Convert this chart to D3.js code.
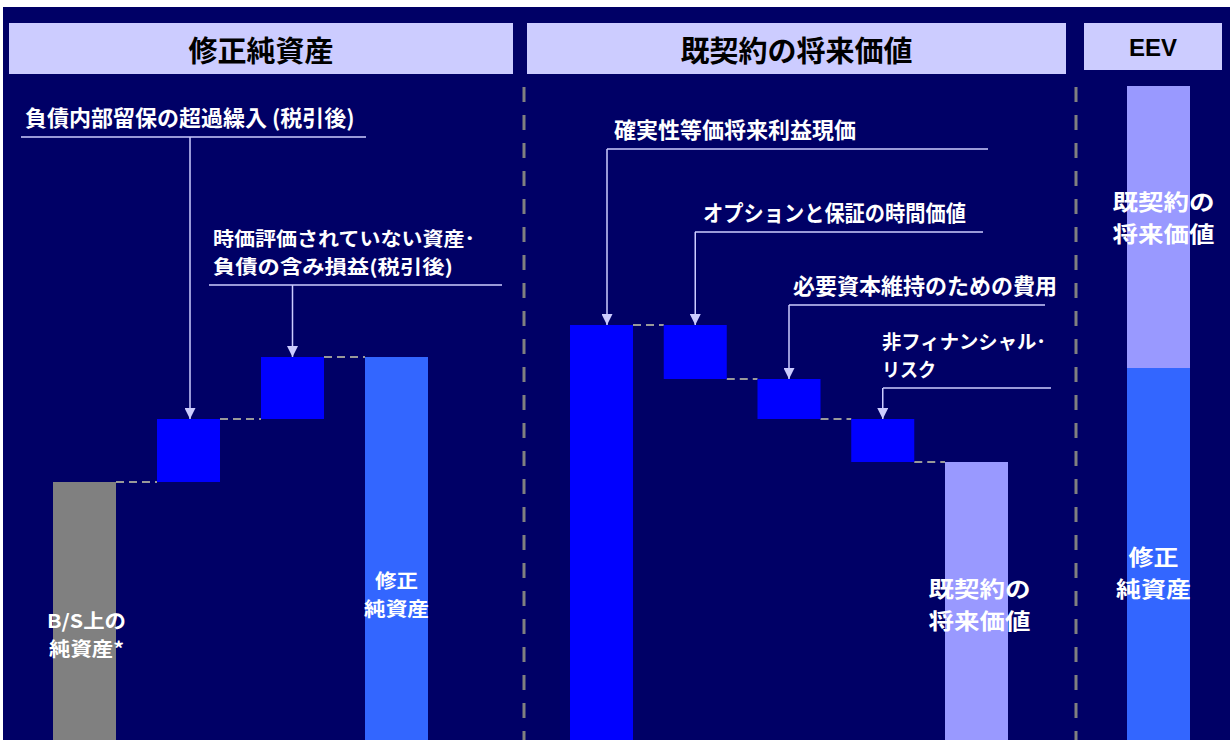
<!DOCTYPE html>
<html lang="ja">
<head>
<meta charset="UTF-8">
<title>EEV</title>
<script src="https://cdnjs.cloudflare.com/ajax/libs/d3/7.8.5/d3.min.js"></script>
<style>
  body { margin: 0; background: #fff; }
  svg { display: block; }
  text { font-family: "Noto Sans CJK JP", "Noto Sans", sans-serif; font-weight: 700; }
  .callout { fill: #fff; }
  .barlabel { fill: #fff; }
  .head { fill: #000; }
</style>
</head>
<body>
<svg width="1230" height="740"></svg>
<script>
// 修正純資産 (waterfall)
const anwCats = ["B/S上の純資産", "負債内部留保の超過繰入", "含み損益", "修正純資産"];
const anwValues = [258, 63, 62, 383];
const anwTypes = ["base", "delta", "delta", "total"];

// 既契約の将来価値 (waterfall)
const vifCats = ["確実性等価将来利益現価", "オプションと保証の時間価値", "必要資本維持のための費用", "非フィナンシャル・リスク", "既契約の将来価値"];
const vifValues = [415, -54, -40, -43, 278];
const vifTypes = ["base", "delta", "delta", "delta", "total"];

// EEV (stacked)
const eevCats = ["修正純資産", "既契約の将来価値"];
const eevValues = [372, 282];

const headers = ["修正純資産", "既契約の将来価値", "EEV"];

const barLabels = {
  "B/S上の純資産": ["B/S上の", "純資産*"],
  "修正純資産": ["修正", "純資産"],
  "既契約の将来価値": ["既契約の", "将来価値"]
};
const calloutLines = {
  "負債内部留保の超過繰入": ["負債内部留保の超過繰入 (税引後)"],
  "含み損益": ["時価評価されていない資産･", "負債の含み損益(税引後)"],
  "確実性等価将来利益現価": ["確実性等価将来利益現価"],
  "オプションと保証の時間価値": ["オプションと保証の時間価値"],
  "必要資本維持のための費用": ["必要資本維持のための費用"],
  "非フィナンシャル・リスク": ["非フィナンシャル･", "リスク"]
};

const colors = {
  bg: "#000066", head: "#ccccff", base: "#808080", delta: "#0000ff",
  anw: "#3366ff", vif: "#9999ff", line: "#ccccff", dash: "#999999"
};

const svg = d3.select("svg");
const barW = 63;
const y = d3.scaleLinear().domain([0, 654]).range([740, 86]);
const xAnw = d3.scalePoint().domain(anwCats).range([84.5, 396.5]);
const xVif = d3.scalePoint().domain(vifCats).range([601.5, 976.5]);
const xEev = d3.scalePoint().domain(["EEV"]).range([1158.5, 1158.5]);

svg.append("defs").append("marker")
  .attr("id", "arrow").attr("viewBox", "0 0 10 10")
  .attr("refX", 10).attr("refY", 5)
  .attr("markerWidth", 11).attr("markerHeight", 11)
  .attr("markerUnits", "userSpaceOnUse")
  .attr("orient", "auto")
  .append("path").attr("d", "M0,0L10,5L0,10Z").attr("fill", colors.line);

svg.append("rect").attr("x", 3).attr("y", 7).attr("width", 1227).attr("height", 733)
  .attr("fill", colors.bg);

// header boxes
const headBoxes = [[9, 513, 74], [527, 1066, 74], [1084, 1222, 70]];
headBoxes.forEach((b, i) => {
  svg.append("rect").attr("x", b[0]).attr("y", 23).attr("width", b[1] - b[0]).attr("height", b[2] - 23)
    .attr("fill", colors.head);
  const t = svg.append("text").attr("class", "head")
    .attr("x", (b[0] + b[1]) / 2).attr("y", i < 2 ? 62 : 56)
    .attr("text-anchor", "middle").text(headers[i]);
  if (i < 2) t.style("font-size", "29px");
  else t.style("font-size", "24px").style("font-family", "'Liberation Sans', Arial, sans-serif");
});

// separators
[524, 1076].forEach(x => {
  svg.append("line").attr("x1", x).attr("x2", x).attr("y1", 87).attr("y2", 740)
    .attr("stroke", "#808080").attr("stroke-width", 3).attr("stroke-dasharray", "15,13");
});

function waterfall(cats, values, types, x, totalColor) {
  let run = 0;
  const bars = cats.map((c, i) => {
    let lo, hi;
    if (types[i] === "delta") {
      const next = run + values[i];
      lo = Math.min(run, next); hi = Math.max(run, next);
      run = next;
    } else {
      lo = 0; hi = values[i]; run = values[i];
    }
    return { cat: c, lo, hi, type: types[i], end: run };
  });

  // connectors
  bars.slice(0, -1).forEach((b, i) => {
    svg.append("line")
      .attr("x1", x(b.cat) + barW / 2).attr("x2", x(bars[i + 1].cat) - barW / 2)
      .attr("y1", y(b.end)).attr("y2", y(b.end))
      .attr("stroke", colors.dash).attr("stroke-width", 2).attr("stroke-dasharray", "8,5");
  });

  svg.selectAll(null).data(bars).enter().append("rect")
    .attr("x", d => x(d.cat) - barW / 2)
    .attr("width", barW)
    .attr("y", d => y(d.hi))
    .attr("height", d => y(d.lo) - y(d.hi))
    .attr("fill", d => d.cat === "B/S上の純資産" ? colors.base
      : d.type === "total" ? totalColor : colors.delta);
  return bars;
}

const anwBars = waterfall(anwCats, anwValues, anwTypes, xAnw, colors.anw);
const vifBars = waterfall(vifCats, vifValues, vifTypes, xVif, colors.vif);

// EEV stacked
let acc = 0;
const eevStack = eevCats.map((c, i) => { const s = { cat: c, lo: acc, hi: acc + eevValues[i] }; acc += eevValues[i]; return s; });
svg.selectAll(null).data(eevStack).enter().append("rect")
  .attr("x", xEev("EEV") - barW / 2).attr("width", barW)
  .attr("y", d => y(d.hi)).attr("height", d => y(d.lo) - y(d.hi))
  .attr("fill", (d, i) => i === 0 ? colors.anw : colors.vif);

// callouts: underline y, line start/end x, text x, font size, line gap, optional text widths
const calloutLayout = {
  "負債内部留保の超過繰入": { ly: 137, x0: 21, x1: 366, tx: 25, ax: 190, fs: 22 },
  "含み損益": { ly: 285, x0: 209, x1: 502, tx: 213, fs: 19, gap: 28, tw: [262, 240] },
  "確実性等価将来利益現価": { ly: 149, x0: 607, x1: 988, tx: 614, ax: 607, fs: 22 },
  "オプションと保証の時間価値": { ly: 232, x0: 695, x1: 983, tx: 703, fs: 22, tw: [263] },
  "必要資本維持のための費用": { ly: 305, x0: 789, x1: 1045, tx: 793, fs: 22 },
  "非フィナンシャル・リスク": { ly: 388, x0: 883, x1: 1051, tx: 882, fs: 19, gap: 28, tw: [164, 54] }
};

function callout(cat, x, bars) {
  const L = calloutLayout[cat];
  const b = bars.find(d => d.cat === cat);
  const ax = L.ax || x(cat);
  svg.append("line").attr("x1", L.x0).attr("x2", L.x1).attr("y1", L.ly).attr("y2", L.ly)
    .attr("stroke", colors.line).attr("stroke-width", 1.5);
  svg.append("line").attr("x1", ax).attr("x2", ax).attr("y1", L.ly).attr("y2", y(b.hi))
    .attr("stroke", colors.line).attr("stroke-width", 1.5).attr("marker-end", "url(#arrow)");
  const lines = calloutLines[cat];
  lines.forEach((s, i) => {
    const t = svg.append("text").attr("class", "callout")
      .attr("x", L.tx).attr("y", L.ly - 11 - (lines.length - 1 - i) * (L.gap || 27))
      .style("font-size", L.fs + "px")
      .text(s);
    if (L.tw) t.attr("textLength", L.tw[i]).attr("lengthAdjust", "spacingAndGlyphs");
  });
}
["負債内部留保の超過繰入", "含み損益"].forEach(c => callout(c, xAnw, anwBars));
vifCats.slice(0, 4).forEach(c => callout(c, xVif, vifBars));

// bar labels (text widths)
function barLabel(lines, cx, cy, size, gap, widths) {
  lines.forEach((s, i) => {
    svg.append("text").attr("class", "barlabel")
      .attr("x", cx).attr("y", cy + i * gap)
      .attr("text-anchor", "middle").style("font-size", size + "px")
      .attr("textLength", widths[i]).attr("lengthAdjust", "spacingAndGlyphs")
      .text(s);
  });
}
barLabel(barLabels["B/S上の純資産"], xAnw("B/S上の純資産") + 2, 628, 19, 28, [79, 75]);
barLabel(barLabels["修正純資産"], xAnw("修正純資産"), 588, 19, 28, [43, 65]);
barLabel(barLabels["既契約の将来価値"], xVif("既契約の将来価値") + 3, 597, 22, 32, [102, 102]);
barLabel(barLabels["既契約の将来価値"], xEev("EEV") + 5, 210, 22, 32, [102, 102]);
barLabel(barLabels["修正純資産"], xEev("EEV") - 5, 565, 22, 32, [50, 75]);
</script>
</body>
</html>
